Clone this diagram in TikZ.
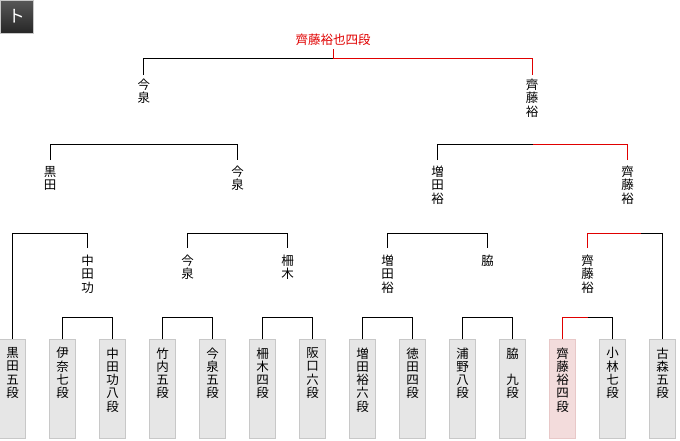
\documentclass[tikz,border=0pt]{standalone}
\usepackage{fontspec}
\setmainfont{Noto Sans CJK JP}
\usepackage{tikz}
\usetikzlibrary{positioning}

\definecolor{winred}{RGB}{224,0,0}
\definecolor{boxgray}{RGB}{230,230,230}
\definecolor{boxline}{RGB}{200,200,200}
\definecolor{boxpink}{RGB}{243,220,220}
\definecolor{boxpinkline}{RGB}{232,200,200}

\begin{document}
\begin{tikzpicture}[x=1pt, y=-1pt, line width=1pt,
    every node/.style={font=\fontsize{12.5}{13.3}\selectfont, align=center, inner sep=0pt},
    player/.style={draw=boxline, fill=boxgray, minimum width=26pt, minimum height=99pt, outer sep=0pt, anchor=north},
    ptext/.style={anchor=north, inner ysep=8pt},
    rlabel/.style={anchor=north, outer ysep=7pt},
    slabel/.style={anchor=north, outer ysep=6pt},
    flabel/.style={anchor=north, outer ysep=4pt},
    champ/.style={text=winred, outer ysep=4pt},
    win/.style={draw=winred},
    badge/.style={minimum size=33pt, top color={rgb,255:red,88;green,88;blue,88}, bottom color={rgb,255:red,38;green,38;blue,38}, draw={rgb,255:red,200;green,200;blue,200}, text=white, font=\fontsize{17}{17}\selectfont}]

    \useasboundingbox (0,0) rectangle (680,440);

    \node[badge] (mark) at (16.5,16.5) {ト};

    % 出場者
    \node[player] (b0) at (12.5,339) {};
    \node[player, right=24pt of b0] (b1) {};
    \node[player, right=24pt of b1] (b2) {};
    \node[player, right=24pt of b2] (b3) {};
    \node[player, right=24pt of b3] (b4) {};
    \node[player, right=24pt of b4] (b5) {};
    \node[player, right=24pt of b5] (b6) {};
    \node[player, right=24pt of b6] (b7) {};
    \node[player, right=24pt of b7] (b8) {};
    \node[player, right=24pt of b8] (b9) {};
    \node[player, right=24pt of b9] (b10) {};
    \node[player, right=24pt of b10, fill=boxpink, draw=boxpinkline] (b11) {};
    \node[player, right=24pt of b11] (b12) {};
    \node[player, right=24pt of b12] (b13) {};

    \node[ptext] (t0) at (b0.north) {黒\\田\\五\\段};
    \node[ptext] (t1) at (b1.north) {伊\\奈\\七\\段};
    \node[ptext] (t2) at (b2.north) {中\\田\\功\\八\\段};
    \node[ptext] (t3) at (b3.north) {竹\\内\\五\\段};
    \node[ptext] (t4) at (b4.north) {今\\泉\\五\\段};
    \node[ptext] (t5) at (b5.north) {柵\\木\\四\\段};
    \node[ptext] (t6) at (b6.north) {阪\\口\\六\\段};
    \node[ptext] (t7) at (b7.north) {増\\田\\裕\\六\\段};
    \node[ptext] (t8) at (b8.north) {徳\\田\\四\\段};
    \node[ptext] (t9) at (b9.north) {浦\\野\\八\\段};
    \node[ptext] (t10) at (b10.north) {脇\\　\\九\\段};
    \node[ptext] (t11) at (b11.north) {齊\\藤\\裕\\四\\段};
    \node[ptext] (t12) at (b12.north) {小\\林\\七\\段};
    \node[ptext] (t13) at (b13.north) {古\\森\\五\\段};

    % 勝ち上がり
    \node[rlabel] (q1) at (87.5,248) {中\\田\\功};
    \node[rlabel] (q2) at (187.5,248) {今\\泉};
    \node[rlabel] (q3) at (287.5,248) {柵\\木};
    \node[rlabel] (q4) at (387.5,248) {増\\田\\裕};
    \node[rlabel] (q5) at (487.5,248) {脇};
    \node[rlabel] (q6) at (587.5,248) {齊\\藤\\裕};

    \node[slabel] (s1) at (50,160) {黒\\田};
    \node[slabel] (s2) at (237.5,160) {今\\泉};
    \node[slabel] (s3) at (437.5,160) {増\\田\\裕};
    \node[slabel] (s4) at (627.5,160) {齊\\藤\\裕};

    \node[flabel] (f1) at (143.75,75) {今\\泉};
    \node[flabel] (f2) at (532,75) {齊\\藤\\裕};

    \node[champ] (w) at (333,39.5) {齊藤裕也四段};

    % 1回戦
    \draw (b1.north) -- ++(0,-22) -| (b2.north);
    \draw (b3.north) -- ++(0,-22) -| (b4.north);
    \draw (b5.north) -- ++(0,-22) -| (b6.north);
    \draw (b7.north) -- ++(0,-22) -| (b8.north);
    \draw (b9.north) -- ++(0,-22) -| (b10.north);
    \draw[win] (b11.north) -- ++(0,-22) -- ++(25,0);
    \draw (b12.north) -- ++(0,-22) -- ++(-25,0);

    % 2回戦
    \draw (q1.north) -- ++(0,-15) -| (b0.north);
    \draw (q2.north) -- ++(0,-15) -| (q3.north);
    \draw (q4.north) -- ++(0,-15) -| (q5.north);
    \draw[win] (q6.north) -- ++(0,-15) -- ++(53.5,0);
    \draw (q6.north) ++(53.5,-15) -| (b13.north);

    % 準決勝
    \draw (s1.north) -- ++(0,-16) -| (s2.north);
    \draw (s3.north) -- ++(0,-16) -- ++(95.5,0);
    \draw[win] (s4.north) -- ++(0,-16) -- ++(-94.5,0);

    % 決勝
    \draw (f1.north) -- ++(0,-17) -- ++(189.25,0);
    \draw[win] (f2.north) -- ++(0,-17) -| (w.south);

\end{tikzpicture}
\end{document}
